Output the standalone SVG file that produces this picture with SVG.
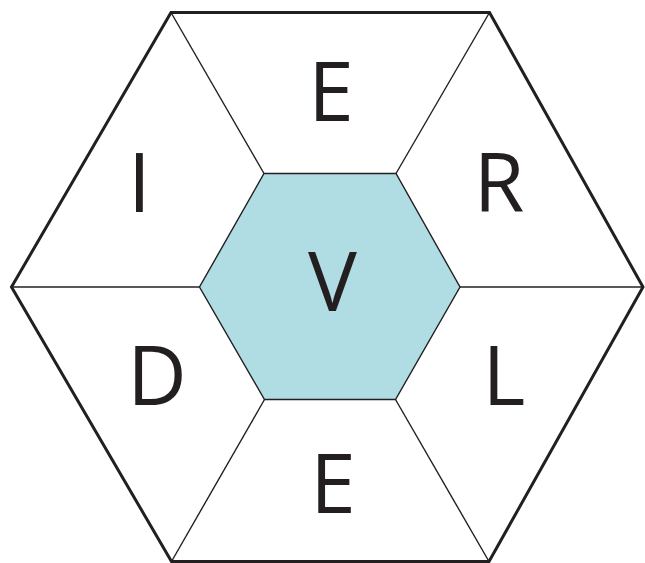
<svg xmlns="http://www.w3.org/2000/svg" width="645" height="563" viewBox="0 0 645 563">
<style>
.outer{fill:#ffffff;stroke:#231f20;stroke-width:3;stroke-linejoin:miter}
.inner{fill:#afdde3;stroke:#231f20;stroke-width:1.4;stroke-linejoin:miter}
.spoke{stroke:#231f20;stroke-width:1.4;fill:none}
.lbl{font-family:"Open Sans","Noto Sans","Liberation Sans",sans-serif;font-size:82px;fill:#231f20;text-anchor:middle}
</style>
<rect width="645" height="563" fill="#ffffff"/>
<g id="outer-hexagon">
<polygon class="outer" points="171,12.5 489.5,12.5 643,287 489,561.5 171.5,561.5 11.5,287"/>
</g>
<g id="connectors">
<line class="spoke" x1="264" y1="173.5" x2="171" y2="12.5"/>
<line class="spoke" x1="396" y1="173.5" x2="489.5" y2="12.5"/>
<line class="spoke" x1="199.5" y1="287" x2="11.5" y2="287"/>
<line class="spoke" x1="460" y1="287" x2="643" y2="287"/>
<line class="spoke" x1="264.5" y1="399.5" x2="171.5" y2="561.5"/>
<line class="spoke" x1="395.5" y1="399.5" x2="489" y2="561.5"/>
</g>
<g id="center">
<polygon class="inner" points="264,173.5 396,173.5 460,287 395.5,399.5 264.5,399.5 199.5,287"/>
<text class="lbl" x="332.5" y="311">V</text>
</g>
<g id="top-E"><text class="lbl" x="331" y="121">E</text></g>
<g id="top-right-R"><text class="lbl" x="499" y="212">R</text></g>
<g id="bottom-right-L"><text class="lbl" x="504" y="405">L</text></g>
<g id="bottom-E"><text class="lbl" x="333" y="513">E</text></g>
<g id="bottom-left-D"><text class="lbl" x="157" y="405">D</text></g>
<g id="top-left-I"><text class="lbl" x="139.5" y="212">I</text></g>
</svg>
